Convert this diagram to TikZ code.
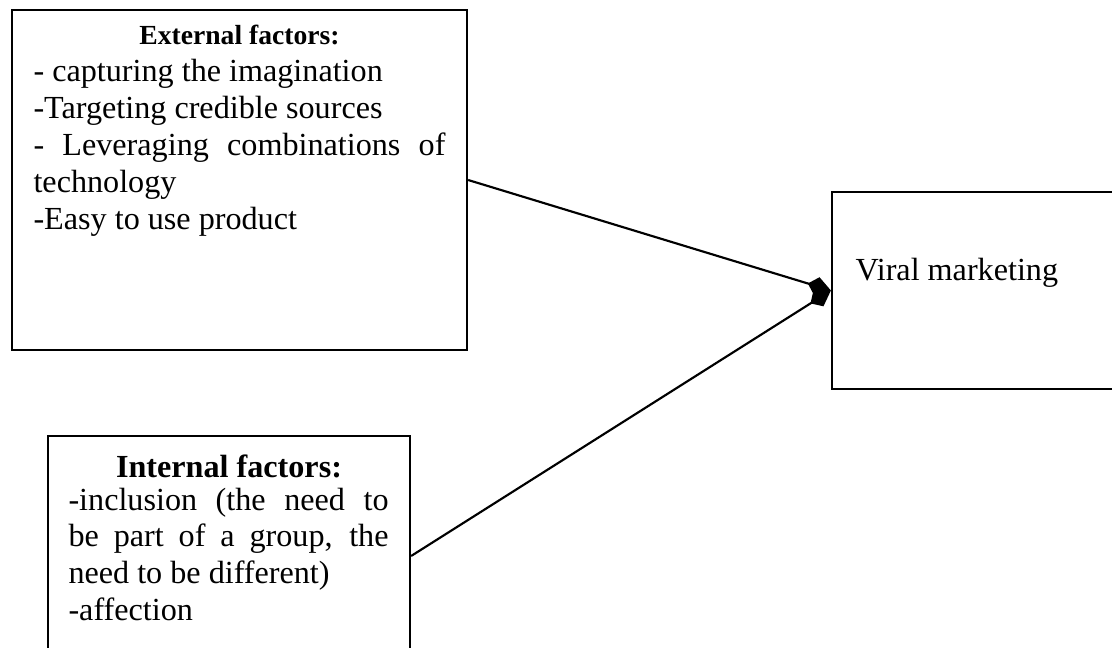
\documentclass[tikz,border=0pt]{standalone}
\usepackage{fontspec}
\setmainfont{Liberation Serif}
\usetikzlibrary{arrows.meta,positioning}
\tikzset{
  factbox/.style={rectangle, draw=black, line width=0.8pt, inner sep=0pt},
  bodytxt/.style={inner sep=0pt, align=justify, anchor=base west,
                  font=\fontsize{12}{13.8}\selectfont},
  headtxt/.style={inner sep=0pt, anchor=base, font=\bfseries\fontsize{12}{13.8}\selectfont},
  arr/.style={-{Kite[length=9pt,width=7pt,inset=3.5pt]}, line width=0.8pt},
}

\begin{document}
\begin{tikzpicture}[x=0.3731pt, y=-0.3731pt]
  \useasboundingbox (0,0) rectangle (1112,648);
  \clip (0,0) rectangle (1112,648);
  % boxes
  \node[factbox, minimum width=169.8pt, minimum height=126.9pt] (ext) at (239.5,180) {};
  \node[factbox, minimum width=111.2pt, minimum height=73.5pt] (vm) at (981,290.5) {};
  \node[factbox, minimum width=135.1pt, minimum height=89.5pt] (int) at (229,556) {};
  % texts
  \node[headtxt, font=\bfseries\fontsize{10.3}{12}\selectfont] (exthead) at (239.5,45) {External factors:};
  \node[bodytxt, text width=153.7pt] (extbody) at (33,82)
    {- capturing the imagination\\
     -Targeting credible sources\\
     - Leveraging combinations of\linebreak technology\\
     -Easy to use product};
  \node[headtxt] (inthead) at (229,477) {Internal factors:};
  \node[bodytxt, text width=119.4pt] (intbody) at (68,510)
    {-inclusion (the need to\linebreak be part of a group, the\linebreak need to be different)\\
     -affection};
  \node[bodytxt] (vmtxt) at (855,280) {Viral marketing};
  % connectors
  \draw[arr] (ext.east) -- (vm.west);
  \draw[arr] (int.east) -- (vm.west);
\end{tikzpicture}
\end{document}
